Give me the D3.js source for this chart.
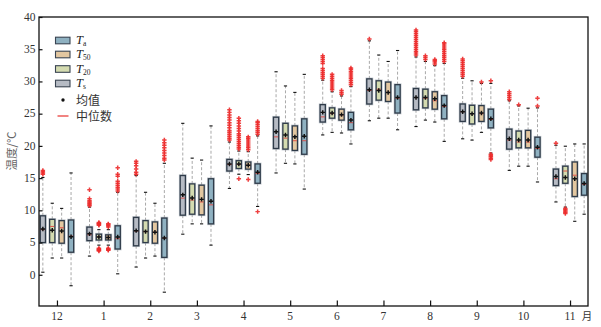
<!DOCTYPE html>
<html>
<head>
<meta charset="utf-8">
<script src="https://cdn.jsdelivr.net/npm/d3@7"></script>
<style>
  html, body { margin: 0; padding: 0; background: #fff; }
  svg { display: block; }
</style>
</head>
<body>
<svg id="chart" width="601" height="327"></svg>
<script>
// Months along the x axis (December through November)
const months = ["12", "1", "2", "3", "4", "5", "6", "7", "8", "9", "10", "11"];
const yTicks = [0, 5, 10, 15, 20, 25, 30, 35, 40];

// Series drawn left-to-right inside each month group
const seriesKeys = ["Ts", "T20", "T50", "Ta"];

// Box statistics per month: [lower whisker, Q1, median, Q3, upper whisker]
const tsStats = [
  [0.4, 5.0, 7.0, 9.15, 15.1], [2.9, 5.3, 6.2, 7.4, 10.5], [1.2, 4.5, 6.8, 8.9, 15.4],
  [6.3, 9.25, 11.9, 15.4, 23.5], [13.4, 16.1, 17.1, 17.9, 20.6], [15.8, 19.6, 21.4, 24.45, 31.5],
  [21.7, 23.7, 24.5, 26.4, 30.2], [23.9, 26.5, 28.6, 30.4, 36.3], [23.0, 25.6, 27.5, 28.9, 33.8],
  [21.1, 23.8, 25.3, 26.5, 30.5], [16.2, 19.5, 20.9, 22.6, 27.0], [11.3, 13.85, 14.9, 16.4, 20.1]
];
const t20Stats = [
  [2.6, 5.0, 7.5, 8.6, 11.1], [4.6, 5.4, 5.9, 6.3, 7.0], [2.6, 5.0, 6.7, 8.4, 12.8],
  [7.9, 9.4, 11.6, 14.1, 18.1], [15.6, 16.5, 17.1, 17.7, 19.2], [17.3, 19.5, 21.2, 23.5, 29.3],
  [22.1, 24.3, 25.0, 25.9, 28.4], [24.3, 27.1, 28.8, 30.1, 34.1], [24.0, 25.9, 27.4, 28.8, 33.1],
  [20.9, 23.4, 25.0, 26.3, 30.1], [16.85, 19.7, 20.6, 22.3, 26.2], [10.5, 14.2, 16.1, 16.85, 19.95]
];
const t50Stats = [
  [2.6, 4.9, 7.3, 8.4, 10.3], [4.6, 5.4, 5.8, 6.2, 7.0], [2.9, 4.9, 6.6, 8.2, 11.1],
  [7.9, 9.3, 11.3, 13.9, 17.8], [15.55, 16.4, 17.0, 17.5, 19.1], [17.2, 19.3, 20.8, 23.1, 28.3],
  [22.0, 24.0, 24.8, 25.7, 27.75], [24.3, 26.9, 28.3, 29.9, 33.1], [23.7, 25.7, 27.0, 28.4, 32.45],
  [22.1, 23.8, 25.0, 26.25, 29.7], [16.85, 19.7, 20.6, 22.4, 25.85], [8.3, 12.15, 15.45, 17.5, 20.3]
];
const taStats = [
  [-1.7, 3.5, 6.0, 8.5, 15.8], [0.15, 4.0, 5.6, 7.6, 12.8], [-2.7, 2.7, 5.7, 8.8, 17.3],
  [4.6, 7.9, 10.85, 14.9, 23.1], [10.6, 14.2, 15.7, 17.2, 21.55], [13.3, 18.7, 20.8, 24.2, 31.1],
  [20.3, 22.5, 23.6, 25.2, 29.2], [22.5, 25.1, 27.4, 29.5, 34.8], [20.7, 24.2, 26.1, 27.8, 32.8],
  [18.9, 22.8, 24.1, 25.7, 29.7], [14.4, 18.25, 19.6, 21.35, 25.9], [9.4, 12.35, 14.05, 15.7, 20.3]
];

// Monthly means
const tsMean  = [7.1, 6.35, 6.85, 12.4, 17.2, 22.2, 25.2, 28.7, 27.5, 25.3, 21.1, 15.25];
const t20Mean = [6.9, 5.85, 6.7, 11.9, 17.2, 21.7, 25.1, 28.6, 27.5, 25.0, 20.9, 15.1];
const t50Mean = [6.8, 5.8, 6.6, 11.7, 17.0, 21.4, 24.85, 28.3, 27.3, 25.1, 20.9, 14.9];
const taMean  = [5.9, 5.85, 5.7, 11.4, 15.9, 21.5, 24.0, 27.5, 26.25, 24.2, 19.8, 14.15];

// Outliers per month
const tsOut = [
  [15.6, 15.8, 16.0, 16.2],
  [10.7, 10.9, 11.1, 11.3, 11.5, 11.8, 13.2],
  [15.6, 15.9, 16.4, 16.9, 17.3, 17.6],
  [],
  [20.9, 21.2, 21.5, 21.8, 22.1, 22.4, 22.8, 23.2, 23.6, 24.0, 24.4, 24.8, 25.2, 25.6],
  [],
  [30.5, 30.8, 31.1, 31.4, 31.7, 32.0, 32.8, 33.1, 33.4, 33.7, 34.0],
  [36.6],
  [34.1, 34.4, 34.7, 35.0, 35.3, 35.6, 35.9, 36.2, 36.5, 36.8, 37.1, 37.4, 37.7, 38.0],
  [30.8, 31.1, 31.4, 31.7, 32.0, 32.3, 32.6, 32.9, 33.2, 33.5],
  [27.2, 27.5, 27.8, 28.1, 28.4],
  [20.4]
];
const t20Out = [
  [],
  [7.7, 7.8, 7.9, 8.0, 8.1, 3.7, 3.8, 3.9, 4.0, 4.1],
  [],
  [],
  [14.9, 19.5, 19.8, 20.1, 20.4, 20.7, 21.0, 21.3, 21.6, 21.9, 22.3, 22.7, 23.1, 23.5, 23.9, 24.3],
  [],
  [28.7, 29.0, 29.3, 29.6, 29.9, 30.2, 30.5, 30.8, 31.1],
  [],
  [33.4, 33.7, 34.0],
  [],
  [26.4],
  [9.5, 9.7, 9.9, 10.1, 10.3]
];
const t50Out = [
  [],
  [7.4, 7.6, 7.8, 7.9, 3.8, 3.9, 4.0, 4.1],
  [],
  [],
  [14.8, 19.4, 19.7, 20.0, 20.3, 20.6, 20.9, 21.2, 21.4],
  [],
  [28.0, 28.3, 28.6],
  [],
  [32.7, 33.0, 33.2, 33.4],
  [29.9],
  [],
  []
];
const taOut = [
  [],
  [13.0, 13.3, 13.6, 13.9, 14.2, 14.5, 15.3, 15.6, 16.6],
  [17.8, 18.1, 18.5, 18.9, 19.3, 19.7, 20.1, 20.5, 20.9],
  [],
  [9.8, 21.8, 22.1, 22.4, 22.7, 23.0, 23.3, 23.6, 23.8],
  [],
  [29.5, 29.8, 30.1, 30.4, 30.7, 31.0, 31.3, 31.6, 31.9, 32.1],
  [],
  [33.1, 33.4, 33.7, 34.0, 34.3, 34.6, 34.9, 35.2, 35.5, 35.8, 36.0],
  [30.1, 17.9, 18.1, 18.3, 18.5, 18.7],
  [26.2, 27.4],
  []
];

const seriesColors = { Ts: "#b6bbc4", T20: "#d4dbb0", T50: "#e3c7a0", Ta: "#8fb1c1" };
const statsBy = { Ts: tsStats, T20: t20Stats, T50: t50Stats, Ta: taStats };
const meanBy = { Ts: tsMean, T20: t20Mean, T50: t50Mean, Ta: taMean };
const outBy = { Ts: tsOut, T20: t20Out, T50: t50Out, Ta: taOut };

const svg = d3.select("#chart");
const plot = { left: 39, right: 588, top: 17, bottom: 307 };

const x = d3.scalePoint().domain(months).range([plot.left, plot.right]).padding(0.385);
const inner = d3.scalePoint().domain(seriesKeys).range([-14.1, 14.1]);
const y = d3.scaleLinear().domain([-5, 40]).range([plot.bottom, plot.top]);
const boxW = 5.2;

const serif = "'Liberation Serif', 'DejaVu Serif', serif";
const cjk = "'Noto Sans CJK SC', sans-serif";

// Draw every box
const g = svg.append("g");
seriesKeys.forEach(key => {
  const stats = statsBy[key];
  stats.forEach((s, i) => {
    const cx = x(months[i]) + inner(key);
    const [lo, q1, med, q3, hi] = s;
    const grp = g.append("g");
    // dashed whiskers
    grp.append("line").attr("x1", cx).attr("x2", cx).attr("y1", y(q3)).attr("y2", y(hi))
      .attr("stroke", "#a9a9a9").attr("stroke-width", 1).attr("stroke-dasharray", "3,2");
    grp.append("line").attr("x1", cx).attr("x2", cx).attr("y1", y(q1)).attr("y2", y(lo))
      .attr("stroke", "#a9a9a9").attr("stroke-width", 1).attr("stroke-dasharray", "3,2");
    // caps
    [lo, hi].forEach(v => {
      grp.append("line").attr("x1", cx - 1.6).attr("x2", cx + 1.6).attr("y1", y(v)).attr("y2", y(v))
        .attr("stroke", "#111").attr("stroke-width", 1.1);
    });
    // box with soft halo
    grp.append("rect").attr("x", cx - boxW / 2).attr("y", y(q3))
      .attr("width", boxW).attr("height", y(q1) - y(q3))
      .attr("fill", "none").attr("stroke", "#9aa3ae").attr("stroke-width", 2.6).attr("stroke-opacity", 0.6);
    grp.append("rect").attr("x", cx - boxW / 2).attr("y", y(q3))
      .attr("width", boxW).attr("height", y(q1) - y(q3))
      .attr("fill", seriesColors[key]).attr("stroke", "#2f3b49").attr("stroke-width", 1.3);
    // median
    grp.append("line").attr("x1", cx - boxW / 2 + 0.6).attr("x2", cx + boxW / 2 - 0.6)
      .attr("y1", y(med)).attr("y2", y(med)).attr("stroke", "#e0453e").attr("stroke-width", 0.9);
    // mean
    grp.append("path").attr("d", d3.symbol(d3.symbolCross, 11)())
      .attr("transform", `translate(${cx},${y(meanBy[key][i])})`).attr("fill", "#111");
    // outliers
    grp.selectAll(".out").data(outBy[key][i]).join("path")
      .attr("d", d3.symbol(d3.symbolCross, 11)())
      .attr("transform", v => `translate(${cx},${y(v)})`)
      .attr("fill", "#ec2b2b").attr("fill-opacity", 0.9);
  });
});

// Frame
svg.append("rect").attr("x", plot.left).attr("y", plot.top)
  .attr("width", plot.right - plot.left).attr("height", plot.bottom - 1 - plot.top)
  .attr("fill", "none").attr("stroke", "#111").attr("stroke-width", 1.3);

// Y axis ticks (inward) and labels
const yAxis = svg.append("g").attr("transform", `translate(${plot.left},0)`)
  .call(d3.axisRight(y).tickValues(yTicks).tickSize(3.5).tickFormat(""));
yAxis.select(".domain").remove();
yAxis.selectAll("line").attr("stroke", "#111").attr("stroke-width", 1.2);
svg.append("g").selectAll("text").data(yTicks).join("text")
  .attr("x", plot.left - 3.5).attr("y", d => y(d) + 3.8)
  .attr("text-anchor", "end").attr("font-family", serif).attr("font-size", 11.5)
  .attr("fill", "#333").text(d => d);

// X axis ticks (inward) and labels
const xAxis = svg.append("g").attr("transform", `translate(0,${plot.bottom - 1})`)
  .call(d3.axisTop(x).tickSize(5.5).tickFormat(""));
xAxis.select(".domain").remove();
xAxis.selectAll("line").attr("stroke", "#111").attr("stroke-width", 1.2);
svg.append("g").selectAll("text").data(months).join("text")
  .attr("x", d => x(d)).attr("y", 319.5)
  .attr("text-anchor", "middle").attr("font-family", serif).attr("font-size", 11.5)
  .attr("fill", "#333").text(d => d);
svg.append("text").attr("x", 587).attr("y", 319.5).attr("text-anchor", "middle")
  .attr("font-family", cjk).attr("font-size", 10.5).attr("fill", "#333").text("月");

// Y axis title
svg.append("text").attr("transform", "translate(16,151) rotate(-90)")
  .attr("text-anchor", "middle").attr("font-family", cjk).attr("font-size", 11.5)
  .attr("fill", "#666").text("温度/℃");

// Legend
const legendItems = [
  { key: "Ta", sub: "a", cy: 40.5 },
  { key: "T50", sub: "50", cy: 54.5 },
  { key: "T20", sub: "20", cy: 69 },
  { key: "Ts", sub: "s", cy: 83.5 }
];
const legend = svg.append("g");
legendItems.forEach(it => {
  legend.append("rect").attr("x", 55.5).attr("y", it.cy - 3.3).attr("width", 14.5).attr("height", 6.6)
    .attr("fill", seriesColors[it.key]).attr("stroke", "#3a4452").attr("stroke-width", 1.1);
  const t = legend.append("text").attr("x", 76).attr("y", it.cy + 3.5)
    .attr("font-family", serif).attr("font-size", 12.5).attr("fill", "#222");
  t.append("tspan").attr("font-style", "italic").text("T");
  t.append("tspan").attr("font-size", 7.5).attr("dy", 2.2).text(it.sub);
});
legend.append("path").attr("d", d3.symbol(d3.symbolCircle, 9)())
  .attr("transform", "translate(63,100)").attr("fill", "#111");
legend.append("text").attr("x", 76).attr("y", 105).attr("font-family", cjk)
  .attr("font-size", 12).attr("fill", "#333").text("均值");
legend.append("line").attr("x1", 57.5).attr("x2", 68.5).attr("y1", 116).attr("y2", 116)
  .attr("stroke", "#e8302c").attr("stroke-width", 1.2);
legend.append("text").attr("x", 76).attr("y", 120.5).attr("font-family", cjk)
  .attr("font-size", 12).attr("fill", "#333").text("中位数");
</script>
</body>
</html>
